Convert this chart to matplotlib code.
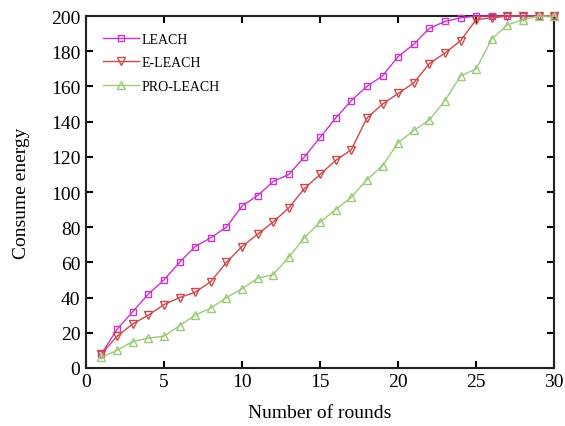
import numpy as np
import matplotlib.pyplot as plt

plt.rcParams['font.family'] = 'Liberation Serif'

# data
rounds = np.arange(1, 31)
leach = [8, 22, 32, 42, 50, 60, 69, 74, 80, 92, 98, 106, 110, 120, 131,
         142, 152, 160, 166, 177, 184, 193, 197, 199, 200, 200, 200, 200, 200, 200]
e_leach = [8, 18, 25, 30, 36, 40, 43, 49, 60, 69, 76, 83, 91, 102, 110,
           118, 124, 142, 150, 156, 162, 173, 179, 186, 198, 199, 200, 200, 200, 200]
pro_leach = [6, 10, 15, 17, 18, 24, 30, 34, 40, 45, 51, 53, 63, 74, 83,
             90, 97, 107, 115, 128, 135, 141, 152, 166, 170, 187, 195, 198, 200, 200]

fig = plt.figure(figsize=(5.65, 4.27), dpi=100)
ax = fig.add_axes([0.152, 0.136, 0.829, 0.824])

ax.plot(rounds, leach, color='#cc33cc', marker='s', mfc='none', ms=4.5,
        lw=1, mew=1, label='LEACH', clip_on=False, zorder=3)
ax.plot(rounds, e_leach, color='#d04848', marker='v', mfc='none', ms=5.5,
        lw=1, mew=1, label='E-LEACH', clip_on=False, zorder=3)
ax.plot(rounds, pro_leach, color='#99cc77', marker='^', mfc='none', ms=5.5,
        lw=1, mew=1, label='PRO-LEACH', clip_on=False, zorder=3)

ax.set_xlim(0, 30)
ax.set_ylim(0, 200)
ax.set_xticks(np.arange(0, 31, 5))
ax.set_yticks(np.arange(0, 201, 20))
ax.tick_params(direction='in', top=True, right=True, length=5, width=1.5,
               labelsize=14, pad=4)
for s in ax.spines.values():
    s.set_linewidth(1.5)
    s.set_color('#222222')

ax.set_xlabel('Number of rounds', fontsize=14, labelpad=10)
ax.set_ylabel('Consume energy', fontsize=14, labelpad=15)

ax.legend(loc='upper left', frameon=False, fontsize=10, handlelength=2.6,
          handletextpad=0.2, labelspacing=0.75, borderaxespad=0.8)

plt.savefig('out.png', dpi=100)
